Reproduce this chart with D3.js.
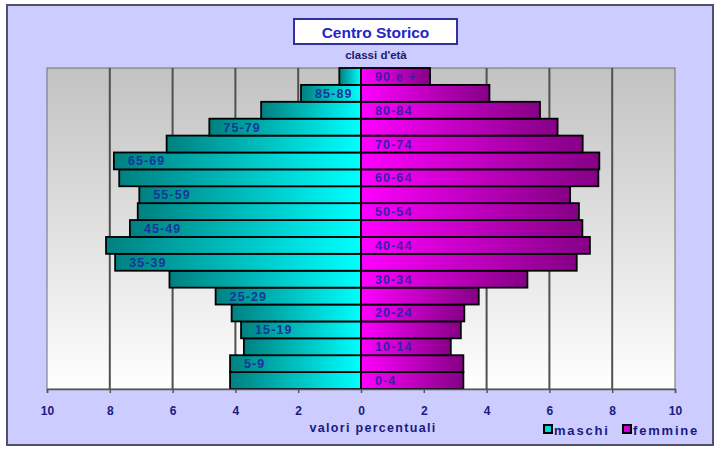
<!DOCTYPE html>
<html><head><meta charset="utf-8">
<script src="https://cdn.jsdelivr.net/npm/d3@7"></script>
<style>
html,body{margin:0;padding:0;background:#fff;}
svg{display:block;}
text{font-family:"Liberation Sans",Arial,sans-serif;font-weight:bold;}
</style></head>
<body><svg id="c" width="720" height="450"></svg>
<script>
const categories = ["0-4","5-9","10-14","15-19","20-24","25-29","30-34","35-39","40-44","45-49","50-54","55-59","60-64","65-69","70-74","75-79","80-84","85-89","90 e +"];
const maschi  = [4.17,4.17,3.73,3.82,4.12,4.63,6.10,7.83,8.12,7.36,7.11,7.06,7.70,7.87,6.19,4.83,3.18,1.91,0.69];
const femmine = [3.26,3.26,2.86,3.18,3.29,3.75,5.30,6.87,7.29,7.05,6.94,6.66,7.56,7.59,7.06,6.26,5.70,4.09,2.20];
const tickValues = [-10,-8,-6,-4,-2,0,2,4,6,8,10];
const tickLabels = ["10","8","6","4","2","0","2","4","6","8","10"];
const title = "Centro Storico";
const subtitle = "classi d'età";
const xTitle = "valori percentuali";
const legendLabels = ["maschi","femmine"];

const svg = d3.select("#c");
const defs = svg.append("defs");

svg.append("rect").attr("x",7).attr("y",5).attr("width",706).attr("height",440)
  .attr("fill","#ccccff").attr("stroke","#50506a").attr("stroke-width",2);

const L=47, R=675, T=68, B=389;
const x = d3.scaleLinear().domain([-10,10]).range([L,R]);
const y = d3.scaleBand().domain(categories.slice().reverse()).range([T,B]).padding(0);

const pg = defs.append("linearGradient").attr("id","pbg").attr("x1",0).attr("y1",0).attr("x2",0).attr("y2",1);
pg.append("stop").attr("offset","0%").attr("stop-color","#c2c2c2");
pg.append("stop").attr("offset","100%").attr("stop-color","#ffffff");
svg.append("rect").attr("x",L).attr("y",T).attr("width",R-L).attr("height",B-T)
  .attr("fill","url(#pbg)").attr("stroke","#707070").attr("stroke-width",1);

svg.append("g").selectAll("line").data(tickValues.filter(v=>v!==0 && Math.abs(v)!==10)).join("line")
  .attr("x1",d=>x(d)).attr("x2",d=>x(d)).attr("y1",T).attr("y2",B)
  .attr("stroke","#505050").attr("stroke-width",2);

const gm = defs.append("linearGradient").attr("id","gm").attr("x1",0).attr("y1",0).attr("x2",1).attr("y2",0);
gm.append("stop").attr("offset","0%").attr("stop-color","#008080");
gm.append("stop").attr("offset","100%").attr("stop-color","#00ffff");
const gf = defs.append("linearGradient").attr("id","gf").attr("x1",0).attr("y1",0).attr("x2",1).attr("y2",0);
gf.append("stop").attr("offset","0%").attr("stop-color","#ff00ff");
gf.append("stop").attr("offset","100%").attr("stop-color","#850085");

const bars = svg.append("g");
bars.selectAll("rect.m").data(categories).join("rect").attr("class","m")
  .attr("x",(d,i)=>x(-maschi[i])).attr("y",d=>y(d))
  .attr("width",(d,i)=>x(0)-x(-maschi[i])).attr("height",y.bandwidth())
  .attr("fill","url(#gm)").attr("stroke","#000").attr("stroke-width",1.8);
bars.selectAll("rect.f").data(categories).join("rect").attr("class","f")
  .attr("x",x(0)).attr("y",d=>y(d))
  .attr("width",(d,i)=>x(femmine[i])-x(0)).attr("height",y.bandwidth())
  .attr("fill","url(#gf)").attr("stroke","#000").attr("stroke-width",1.8);

svg.append("g").selectAll("text").data(categories).join("text")
  .attr("x",(d,i)=> i%2===0 ? x(0)+14 : x(-maschi[i])+14)
  .attr("y",d=>y(d)+y.bandwidth()/2+4.5)
  .attr("font-size",12.5).attr("letter-spacing",1.1)
  .attr("fill",(d,i)=> i%2===0 ? "#3a1ea6" : "#1a3598")
  .text(d=>d);

const axis = d3.axisBottom(x).tickValues(tickValues).tickSize(4).tickFormat((d,i)=>tickLabels[i]);
const ag = svg.append("g").attr("transform",`translate(0,${B})`).call(axis);
ag.select(".domain").attr("stroke","#555").attr("stroke-width",1.5);
ag.selectAll(".tick line").attr("stroke","#555").attr("stroke-width",1.5);
ag.selectAll(".tick text").attr("font-size",12).attr("fill","#1a1a80").attr("dy","1.6em")
  .attr("font-family","'Liberation Sans',Arial,sans-serif").attr("font-weight","bold");

svg.append("rect").attr("x",294).attr("y",19).attr("width",163).attr("height",25)
  .attr("fill","#fff").attr("stroke","#3030a0").attr("stroke-width",2);
svg.append("text").attr("x",375.5).attr("y",37.5).attr("text-anchor","middle")
  .attr("font-family","'DejaVu Sans',Verdana,sans-serif")
  .attr("font-size",15.5).attr("fill","#2424c8").text(title);
svg.append("text").attr("x",373).attr("y",432).attr("text-anchor","middle")
  .attr("font-size",12.5).attr("fill","#1a1a80").attr("letter-spacing",1.3).text(xTitle);
svg.append("text").attr("x",376).attr("y",59).attr("text-anchor","middle")
  .attr("font-size",11.5).attr("fill","#1a1a70").text(subtitle);

const lg = svg.append("g");
const lx = [544, 623];
const lcol = ["#00d8d8","#d000d0"];
legendLabels.forEach((t,i)=>{
  lg.append("rect").attr("x",lx[i]).attr("y",425).attr("width",8).attr("height",8)
    .attr("fill",lcol[i]).attr("stroke","#000").attr("stroke-width",2);
  lg.append("text").attr("x",lx[i]+10).attr("y",434.5).attr("font-size",13)
    .attr("font-family","'DejaVu Sans',Verdana,sans-serif")
    .attr("letter-spacing",1.8).attr("fill","#1a1a80").text(t);
});
</script></body></html>
